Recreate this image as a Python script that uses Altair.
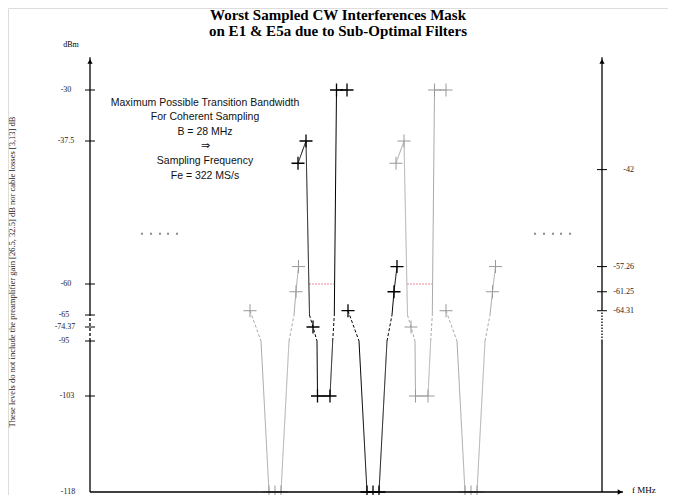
import altair as alt
import pandas as pd

# ---------------- data ----------------
left_tick_values = [-30, -37.5, -60, -65, -74.37, -95, -103, -118]
left_tick_labels = ["-30", "-37.5", "-60", "-65", "-74.37", "-95", "-103", "-118"]
left_label_f = [-24, -24, -24, -26, -25, -26, -23, -22]
right_tick_values = [-42, -57.26, -61.25, -64.31]
right_tick_labels = ["-42", "-57.26", "-61.25", "-64.31"]

# black main lobe (E1) and notch (E5a); f in arbitrary MHz units from left axis
b1_f = [208, 216, 219.5, 223, 227, 227.5, 240, 242.7, 244.3, 246.5, 257]
b1_db = [-41, -37.5, -65, -74.37, -95, -103, -103, -95, -65, -30, -30]
b2_f = [258, 269, 277, 283, 289, 297, 302, 304, 307]
b2_db = [-64.31, -95, -118, -118, -118, -95, -65, -61.25, -57.26]
# grey aliases
g1_f = [160, 171, 179, 185, 191, 199, 204, 206, 208.5]
g2_f = [306, 314, 317.5, 321, 325, 325.5, 338, 340.7, 342.3, 344.5, 356]
g3_f = [356, 367, 375, 381, 387, 395, 400, 402.5, 405.5]

# segment structure: (start index, end index, style)
lobe_segments = [(0, 2, "solid"), (2, 4, "dashed"), (4, 7, "solid"), (7, 8, "dashed"), (8, 10, "solid")]
lobe_markers = [0, 1, 3, 5, 6, 9, 10]
notch_segments = [(0, 1, "dashed"), (1, 5, "solid"), (5, 6, "dashed"), (6, 8, "solid")]
notch_markers = [0, 2, 3, 4, 7, 8]

pink_f = [[219, 244.6], [317, 342.6]]
pink_db = -60

dots_left_f = [52, 61, 70, 78, 87]
dots_right_f = [445, 454, 463, 471, 480]
dots_db = -52.1

axis_top = -25.2
axis_right_f = 512
axis_arrow_f = 533

annotation = ["Maximum Possible Transition Bandwidth", "For Coherent Sampling", "B = 28 MHz",
              "\u21d2", "Sampling Frequency", "Fe =  322 MS/s"]
title_lines = ["Worst Sampled CW Interferences Mask", "on E1 & E5a due to Sub-Optimal Filters"]
side_note = "These levels do not include the preamplifier gain [26.5, 32.5] dB nor cable losses [3,13] dB"

BLACK = "#000000"
GREY_LINE = "#aaaaaa"
GREY_MARK = "#999999"

# ---------------- build tables ----------------
pieces = [
    ("g1", g1_f, b2_db, notch_segments, notch_markers, GREY_LINE, GREY_MARK),
    ("g2", g2_f, b1_db, lobe_segments, lobe_markers, GREY_LINE, GREY_MARK),
    ("g3", g3_f, b2_db, notch_segments, notch_markers, GREY_LINE, GREY_MARK),
    ("b1", b1_f, b1_db, lobe_segments, lobe_markers, BLACK, BLACK),
    ("b2", b2_f, b2_db, notch_segments, notch_markers, BLACK, BLACK),
]
line_rows, mark_rows = [], []
for k, (name, fs, dbs, segs, marks, lc, mc) in enumerate(pieces):
    for j, (a, b, style) in enumerate(segs):
        for i in range(a, b + 1):
            line_rows.append(dict(seg=f"{name}_{j}", o=i, f=fs[i], db=dbs[i], c=lc,
                                  dash=style, grp=k))
    for i in marks:
        mark_rows.append(dict(f=fs[i], db=dbs[i], c=mc, grp=k, w=1.0 if mc != BLACK else 1.3))
lines_df = pd.DataFrame(line_rows)
marks_df = pd.DataFrame(mark_rows)

pink_df = pd.DataFrame([dict(f=a, f2=b, db=pink_db) for a, b in pink_f])
dots_df = pd.DataFrame([dict(f=v, db=dots_db) for v in dots_left_f + dots_right_f])

axis_segs = pd.DataFrame([
    dict(f=0, db=-118, db2=-95, dash="solid"),
    dict(f=0, db=-95, db2=-65, dash="dashed"),
    dict(f=0, db=-65, db2=axis_top, dash="solid"),
    dict(f=axis_right_f, db=-118, db2=-95, dash="solid"),
    dict(f=axis_right_f, db=-95, db2=-64.31, dash="dotted"),
    dict(f=axis_right_f, db=-64.31, db2=axis_top, dash="solid"),
])
bottom_axis = pd.DataFrame([dict(f=0, f2=axis_arrow_f, db=-118)])
arrows_up = pd.DataFrame([dict(f=0, db=axis_top - 0.6), dict(f=axis_right_f, db=axis_top - 0.6)])
arrow_right = pd.DataFrame([dict(f=axis_arrow_f - 3, db=-118)])

left_ticks_df = pd.DataFrame([dict(f=-5, f2=5, db=v) for v in left_tick_values[:-1]])
right_ticks_df = pd.DataFrame([dict(f=axis_right_f - 5, f2=axis_right_f + 5, db=v) for v in right_tick_values])
left_lab_df = pd.DataFrame([dict(f=lf, db=v, t=t) for lf, v, t in zip(left_label_f, left_tick_values, left_tick_labels)])
right_lab_df = pd.DataFrame([dict(f=544, db=v, t=t) for v, t in zip(right_tick_values, right_tick_labels)])

ann_df = pd.DataFrame([dict(t=t, i=i) for i, t in enumerate(annotation)])
title_df = pd.DataFrame([dict(t=t, i=i) for i, t in enumerate(title_lines)])

# ---------------- scales ----------------
xsc = alt.Scale(domain=[0, 512], range=[82, 594], nice=False, zero=False)
ysc = alt.Scale(domain=[-118, -103, -95, -74.37, -65, -60, -37.5, -30],
                range=[484, 388, 333, 319, 307, 276, 133, 82], nice=False, zero=False)
X = lambda fld="f": alt.X(f"{fld}:Q", scale=xsc, axis=None)
Y = lambda fld="db": alt.Y(f"{fld}:Q", scale=ysc, axis=None)
dash_scale = alt.Scale(domain=["solid", "dashed", "dotted"], range=[[1, 0], [3, 2], [1.5, 1.5]])

mask_lines = alt.Chart(lines_df).mark_line(strokeWidth=1, interpolate="linear").encode(
    x=X(), y=Y(), detail="seg:N", order="o:Q",
    color=alt.Color("c:N", scale=None),
    strokeDash=alt.StrokeDash("dash:N", scale=dash_scale, legend=None),
)
plus = "M-1,0L1,0M0,-1L0,1"
mask_marks = alt.Chart(marks_df).mark_point(shape=plus, size=170, filled=False, opacity=1).encode(
    x=X(), y=Y(), color=alt.Color("c:N", scale=None),
    strokeWidth=alt.StrokeWidth("w:Q", scale=None),
)
pink = alt.Chart(pink_df).mark_rule(color="#f08a9c", strokeWidth=1, strokeDash=[2, 1]).encode(
    x=X(), x2="f2:Q", y=Y())
dots = alt.Chart(dots_df).mark_square(size=4, color="#8c8c8c", opacity=1).encode(x=X(), y=Y())

axes = alt.Chart(axis_segs).mark_rule(color="black", strokeWidth=1.3).encode(
    x=X(), y=Y(), y2="db2:Q",
    strokeDash=alt.StrokeDash("dash:N", scale=dash_scale, legend=None))
baxis = alt.Chart(bottom_axis).mark_rule(color="black", strokeWidth=1.3).encode(x=X(), x2="f2:Q", y=Y())
aup = alt.Chart(arrows_up).mark_point(shape="triangle-up", size=28, filled=True, color="black", opacity=1).encode(x=X(), y=Y())
aright = alt.Chart(arrow_right).mark_point(shape="triangle-right", size=28, filled=True, color="black", opacity=1).encode(x=X(), y=Y())
lticks = alt.Chart(left_ticks_df).mark_rule(color="black", strokeWidth=1).encode(x=X(), x2="f2:Q", y=Y())
rticks = alt.Chart(right_ticks_df).mark_rule(color="black", strokeWidth=1).encode(x=X(), x2="f2:Q", y=Y())
serif = "Liberation Serif"
llabels = alt.Chart(left_lab_df).mark_text(font=serif, fontSize=8, align="center", baseline="middle", color="#222").encode(
    x=X(), y=Y(), text="t:N")
rlabels = alt.Chart(right_lab_df).mark_text(font=serif, fontSize=8, align="right", baseline="middle", color="#222").encode(
    x=X(), y=Y(), text="t:N")

ann = alt.Chart(ann_df).mark_text(font="Liberation Sans", fontSize=10.5, align="center", baseline="middle", color="#111").encode(
    x=alt.value(197), y=alt.Y("i:O", scale=alt.Scale(domain=list(range(6)), range=[94.5, 167.5], padding=0, paddingInner=0, paddingOuter=0), axis=None),
    text="t:N")
title = alt.Chart(title_df).mark_text(font=serif, fontSize=15, fontWeight="bold", align="center", baseline="middle", color="black").encode(
    x=alt.value(330), y=alt.Y("i:O", scale=alt.Scale(domain=[0, 1], range=[7, 23], padding=0, paddingInner=0, paddingOuter=0), axis=None),
    text="t:N")
dbm = alt.Chart(pd.DataFrame([dict(t="dBm")])).mark_text(font=serif, fontSize=8, align="center", baseline="middle").encode(
    x=alt.value(63), y=alt.value(37), text="t:N")
fmhz = alt.Chart(pd.DataFrame([dict(t="f MHz")])).mark_text(font=serif, fontSize=9, align="left", baseline="middle").encode(
    x=alt.value(624), y=alt.value(481.5), text="t:N")
side = alt.Chart(pd.DataFrame([dict(t=side_note)])).mark_text(font=serif, fontSize=8.5, angle=270, align="center", baseline="middle", color="#222").encode(
    x=alt.value(4), y=alt.value(264), text="t:N")

chart = alt.layer(
    pink, mask_lines, mask_marks, dots, axes, baxis, aup, aright, lticks, rticks,
    llabels, rlabels, ann, title, dbm, fmhz, side,
).resolve_scale(y="independent").properties(
    width=660, height=487, autosize=alt.AutoSizeParams(type="none"), padding=0
).configure_view(stroke="transparent", strokeWidth=0).configure(background="white")

chart.save("out.html", embed_options={"renderer": "svg", "actions": False})
